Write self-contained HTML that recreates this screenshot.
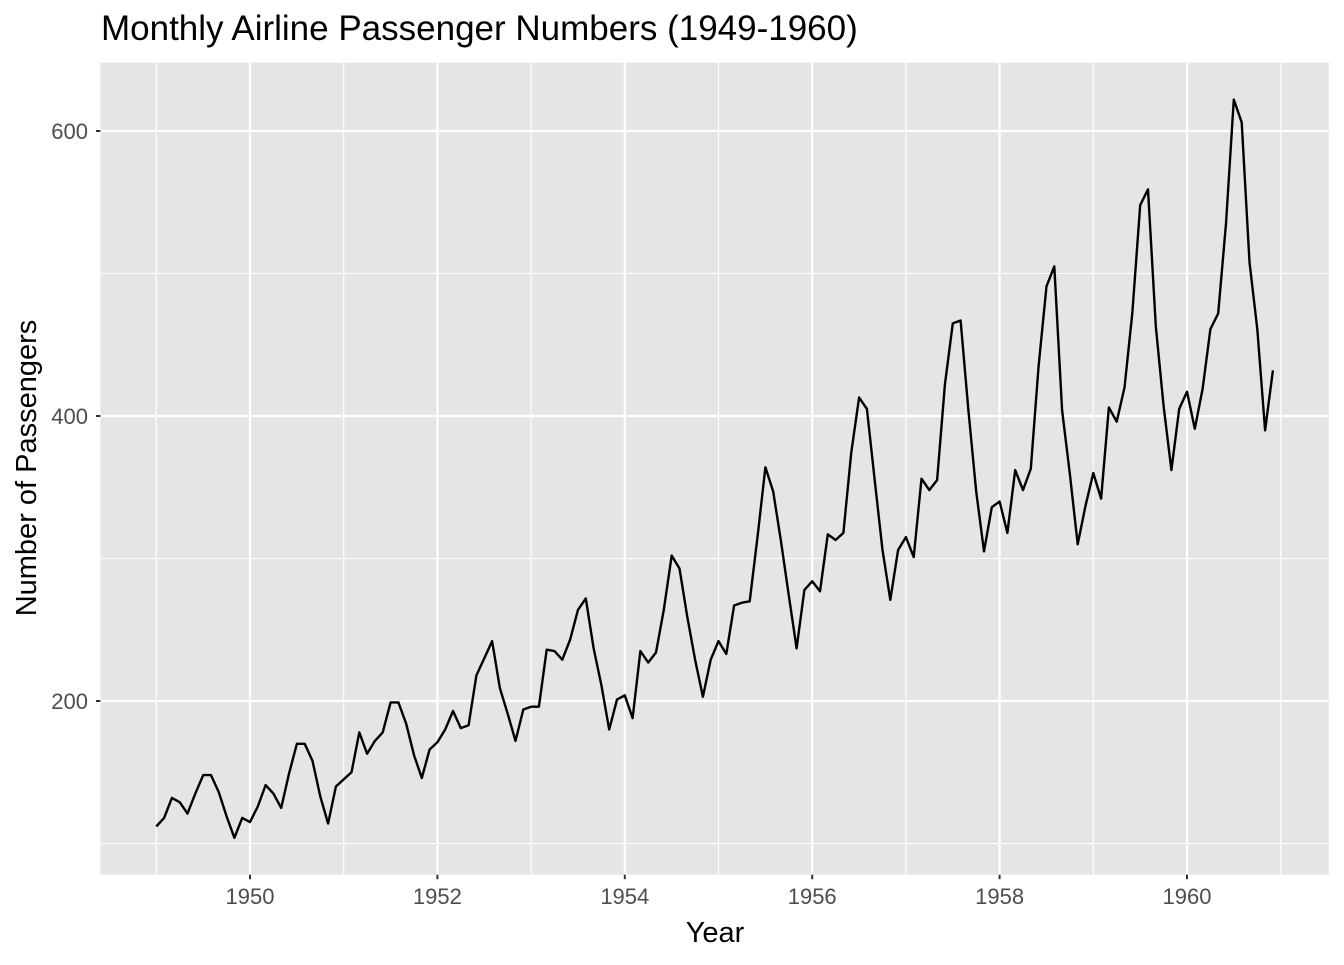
<!DOCTYPE html>
<html><head><meta charset="utf-8"><style>
body{margin:0;background:#fff;}
svg text{font-family:"Liberation Sans",Arial,sans-serif;}
</style></head><body>
<svg id="s" width="1344" height="960" xmlns="http://www.w3.org/2000/svg">
<rect x="0" y="0" width="1344" height="960" fill="#fff"/>
<rect x="100.5" y="62.7" width="1228.3" height="812" fill="#e5e5e5"/>
<g id="grid"></g>
<polyline id="line" fill="none" stroke="#000" stroke-width="2.4" stroke-linejoin="round"/>
<g id="ticks" stroke="#333" stroke-width="2"></g>
<g id="labels" fill="#4d4d4d" font-size="22"></g>
<text x="101" y="40" font-size="35" fill="#000">Monthly Airline Passenger Numbers (1949-1960)</text>
<text x="715" y="942" font-size="29" text-anchor="middle" fill="#000">Year</text>
<text transform="translate(36,468) rotate(-90)" font-size="29" text-anchor="middle" fill="#000">Number of Passengers</text>
</svg>
<script>
var d=[112,118,132,129,121,135,148,148,136,119,104,118,115,126,141,135,125,149,170,170,158,133,114,140,145,150,178,163,172,178,199,199,184,162,146,166,171,180,193,181,183,218,230,242,209,191,172,194,196,196,236,235,229,243,264,272,237,211,180,201,204,188,235,227,234,264,302,293,259,229,203,229,242,233,267,269,270,315,364,347,312,274,237,278,284,277,317,313,318,374,413,405,355,306,271,306,315,301,356,348,355,422,465,467,404,347,305,336,340,318,362,348,363,435,491,505,404,359,310,337,360,342,406,396,420,472,548,559,463,407,362,405,417,391,419,461,472,535,622,606,508,461,390,432];
function X(t){return 250+(t-1950)*93.7;}
function Y(v){return 701-(v-200)*1.425;}
var ns="http://www.w3.org/2000/svg";
function el(p,n,a,txt){var e=document.createElementNS(ns,n);for(var k in a)e.setAttribute(k,a[k]);if(txt)e.textContent=txt;document.getElementById(p).appendChild(e);}
var L=100.5,R=1328.8,T=62.7,B=874.7;
[100,300,500].forEach(function(v){el("grid","line",{x1:L,x2:R,y1:Y(v),y2:Y(v),stroke:"#fff","stroke-width":1.1});});
for(var yr=1949;yr<=1961;yr+=2){el("grid","line",{x1:X(yr),x2:X(yr),y1:T,y2:B,stroke:"#fff","stroke-width":1.1});}
[200,400,600].forEach(function(v){el("grid","line",{x1:L,x2:R,y1:Y(v),y2:Y(v),stroke:"#fff","stroke-width":2.2});
el("ticks","line",{x1:L-4.5,x2:L,y1:Y(v),y2:Y(v)});
el("labels","text",{x:88,y:Y(v)+7.8,"text-anchor":"end"},String(v));});
for(var yr=1950;yr<=1960;yr+=2){el("grid","line",{x1:X(yr),x2:X(yr),y1:T,y2:B,stroke:"#fff","stroke-width":2.2});
el("ticks","line",{x1:X(yr),x2:X(yr),y1:B,y2:B+4.5});
el("labels","text",{x:X(yr),y:904,"text-anchor":"middle"},String(yr));}
var pts=d.map(function(v,i){return X(1949+i/12).toFixed(1)+","+Y(v).toFixed(1);}).join(" ");
document.getElementById("line").setAttribute("points",pts);
</script>
</body></html>
